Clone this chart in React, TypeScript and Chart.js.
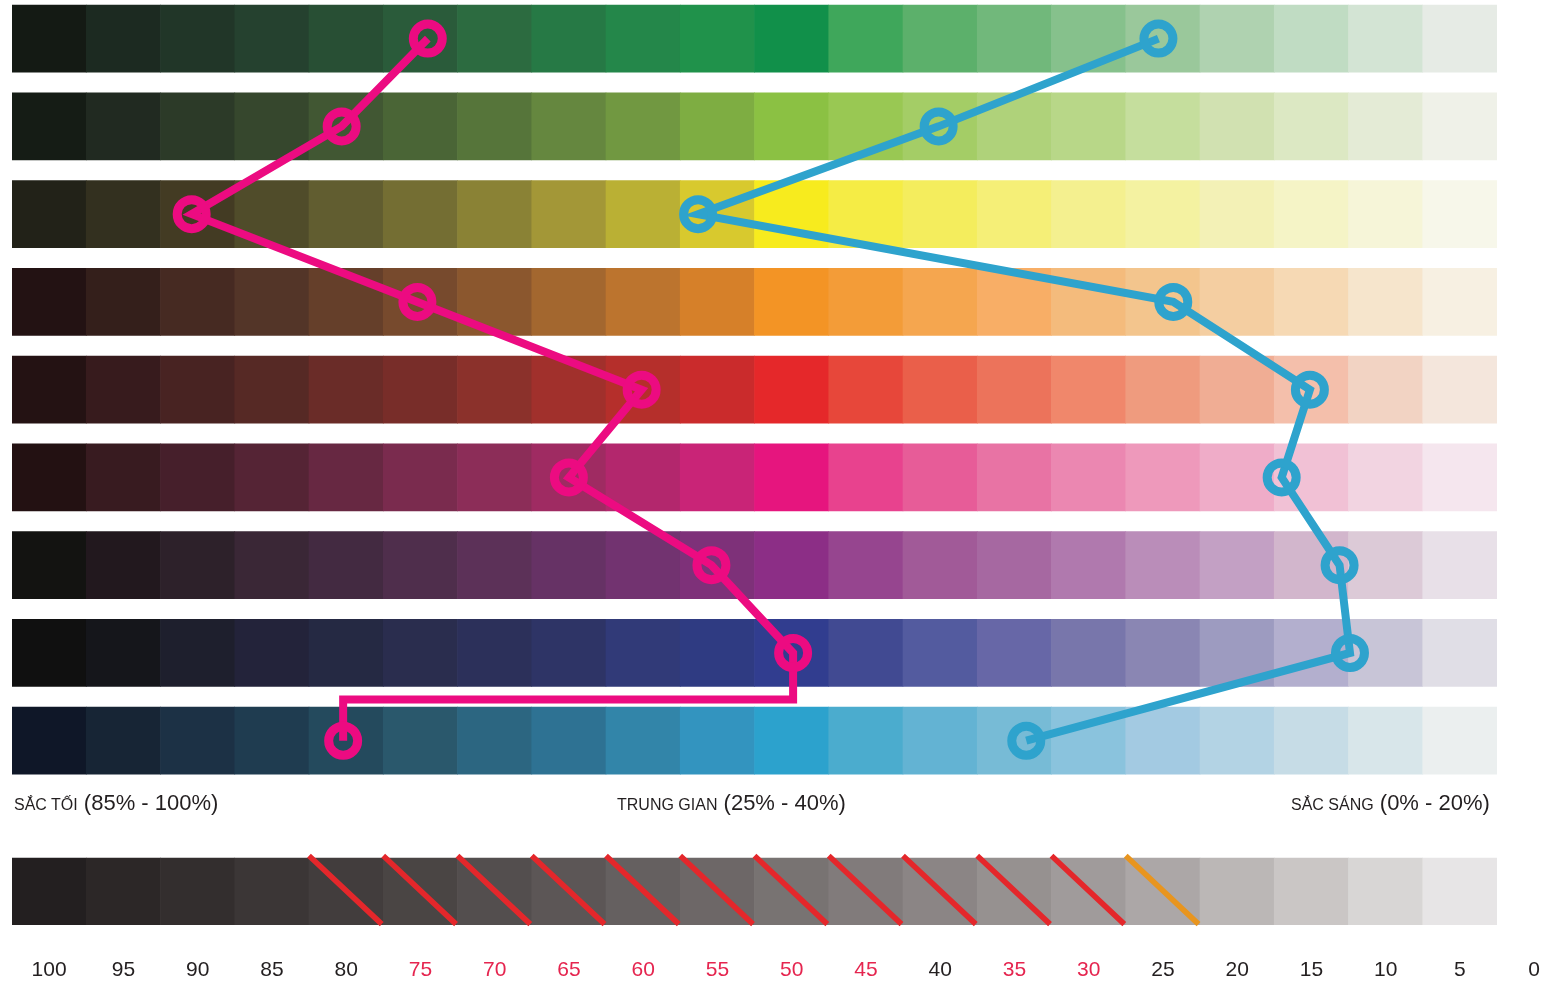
import React, { useEffect, useRef } from "react";
import { Chart, registerables } from "chart.js";

Chart.register(...registerables);

// ---- data -------------------------------------------------------------
const cellTones = [100, 95, 90, 85, 80, 75, 70, 65, 60, 55, 50, 45, 40, 35, 30, 25, 20, 15, 10, 5];
const tickTones = [100, 95, 90, 85, 80, 75, 70, 65, 60, 55, 50, 45, 40, 35, 30, 25, 20, 15, 10, 5, 0];
const redTickTones = [75, 70, 65, 60, 55, 50, 45, 35, 30];

const rowGreen = ["#141a14", "#1c2a21", "#213628", "#25412f", "#284f34", "#2a5b3a", "#2c6b40", "#267945", "#24874a", "#20924b", "#11904a", "#3fa75b", "#5cb06b", "#71b87b", "#86c18c", "#9ac89b", "#afd2b0", "#c0dcc3", "#d3e4d4", "#e6ebe5"];
const rowLime = ["#151c15", "#212a21", "#2c3a28", "#36472d", "#415733", "#4a6536", "#56753a", "#65873f", "#719841", "#7ead42", "#8bc143", "#99c853", "#a4cd66", "#afd27a", "#b8d788", "#c5de9d", "#d1e1b1", "#dce8c3", "#e4ebd6", "#eff1e8"];
const rowYellow = ["#222218", "#33301f", "#433b23", "#504c2a", "#615d30", "#746e33", "#8a8235", "#a39737", "#bab034", "#d8c92e", "#f7eb1e", "#f5ec45", "#f4ed5d", "#f5ef77", "#f4f08f", "#f4f2a1", "#f3f1b6", "#f5f4c6", "#f6f5d8", "#f7f7ea"];
const rowOrange = ["#231213", "#341f1b", "#462a22", "#533528", "#653f2a", "#774a2d", "#8b572e", "#a3672f", "#bc742e", "#d68029", "#f39425", "#f39c38", "#f5a64f", "#f8ae66", "#f4bb7c", "#f3c58d", "#f4cea1", "#f6d9b4", "#f6e5cc", "#f7f0e2"];
const rowRed = ["#241213", "#371b1d", "#482322", "#562925", "#6a2c28", "#782d29", "#8b312b", "#a1302c", "#b52f2b", "#ca2b2c", "#e5282a", "#e7473a", "#ea5f4a", "#ec735b", "#f0876b", "#ef9b7e", "#f0ad94", "#f4bfab", "#f2d3c3", "#f4e6dc"];
const rowPink = ["#231112", "#381b20", "#461f2b", "#552435", "#672842", "#7a2b4e", "#8c2d58", "#9f2b62", "#b3276d", "#c92477", "#e6157e", "#e8428e", "#e75c98", "#e873a4", "#eb87b1", "#ee99bb", "#efacc8", "#f1c1d5", "#f2d4e1", "#f5e6ee"];
const rowPurple = ["#131311", "#22181e", "#2d212a", "#3a2736", "#432a41", "#4f2e4c", "#5c3158", "#663265", "#723370", "#7e3179", "#8c2e86", "#96458f", "#a15a98", "#a668a1", "#b079ae", "#ba8db9", "#c3a0c4", "#d2b6cc", "#dccad7", "#e8e0e8"];
const rowIndigo = ["#101010", "#15161b", "#1e1f2d", "#23233a", "#252943", "#2a2d4e", "#2c305a", "#2e3466", "#313a78", "#2f3b82", "#313d8f", "#414a92", "#535b9f", "#6767a7", "#7876ab", "#8a86b3", "#9d9bc0", "#b3afce", "#c8c5d7", "#e0dee6"];
const rowCyan = ["#0f1728", "#172535", "#1c3145", "#1f3c50", "#244a5d", "#2a586c", "#2c6681", "#2e7293", "#3285a9", "#3394bf", "#2ca2cd", "#4bacce", "#63b3d3", "#77bbd6", "#8ac3dd", "#a3cae2", "#b3d3e4", "#c6dce6", "#d8e6ea", "#ebefef"];
const grayRow = ["#231f20", "#2c2727", "#332e2e", "#3b3636", "#423d3d", "#4a4544", "#534e4e", "#5c5656", "#656060", "#6d6767", "#787372", "#817b7b", "#8b8585", "#969190", "#a09b9b", "#aca7a7", "#bbb7b6", "#cac6c5", "#d8d6d5", "#e7e5e6"];

const colorRows = [rowGreen, rowLime, rowYellow, rowOrange, rowRed, rowPink, rowPurple, rowIndigo, rowCyan];
const grayRowPos = 9.72;

// tone (%) of each marker, one per colour row (top to bottom)
const pinkTones = [74.5, 80.3, 90.4, 75.2, 60.1, 65, 55.4, 49.9, 80.2];
const pinkDetourRow = 7.53;
const blueTones = [25.3, 40.1, 56.3, 24.3, 15.1, 17, 13.1, 12.4, 34.2];

const struckRedTones = [80, 75, 70, 65, 60, 55, 50, 45, 40, 35, 30];
const struckOrangeTones = [25];

// ---- styles -----------------------------------------------------------
const FONT = '"Liberation Sans", Arial, sans-serif';
const DARK = "#231f20";
const LABEL_RED = "#e5254f";
const PINK = "#ec0b81";
const BLUE = "#2ea3cd";
const SLASH_RED = "#e4272b";
const SLASH_ORANGE = "#e8951f";
const HALF_CELL = 2.5;
const GRAY_HALF = 0.39;

export default function App() {
  const canvasRef = useRef<HTMLCanvasElement | null>(null);

  useEffect(() => {
    document.body.style.margin = "0";
    document.body.style.overflow = "hidden";
    const canvas = canvasRef.current;
    if (!canvas) return;

    const barData: any[] = [];
    const barColors: string[] = [];
    colorRows.forEach((row, r) => {
      row.forEach((c, i) => {
        barData.push({ y: r, x: [cellTones[i] - HALF_CELL, cellTones[i] + HALF_CELL] });
        barColors.push(c);
      });
    });
    grayRow.forEach((c, i) => {
      barData.push({ y: grayRowPos, x: [cellTones[i] - HALF_CELL, cellTones[i] + HALF_CELL] });
      barColors.push(c);
    });

    const pinkPoints: any[] = pinkTones.slice(0, 8).map((t, i) => ({ x: t, y: i, m: true }));
    pinkPoints.push({ x: pinkTones[7], y: pinkDetourRow });
    pinkPoints.push({ x: pinkTones[8], y: pinkDetourRow });
    pinkPoints.push({ x: pinkTones[8], y: 8, m: true });

    const bluePoints = blueTones.map((t, i) => ({ x: t, y: i, m: true }));

    const slashPoints = (tones: number[]) =>
      tones.flatMap((t) => [
        { x: t + HALF_CELL, y: grayRowPos - GRAY_HALF - 0.02 },
        { x: t - HALF_CELL + 0.1, y: grayRowPos + GRAY_HALF - 0.02 },
        { x: t, y: null },
      ]);

    const markerRadius = (ctx: any) => (ctx.raw && ctx.raw.m ? 14.5 : 0);

    const lineCommon = {
      type: "line" as const,
      indexAxis: "x" as const,
      tension: 0,
      fill: false,
      borderJoinStyle: "miter" as const,
      spanGaps: false,
      clip: false as any,
    };

    const chart = new Chart(canvas, {
      type: "bar",
      data: {
        datasets: [
          {
            type: "bar",
            data: barData,
            backgroundColor: barColors,
            borderWidth: 0,
            barThickness: 67,
            order: 3,
          } as any,
          {
            ...lineCommon,
            data: slashPoints(struckRedTones),
            borderColor: SLASH_RED,
            borderWidth: 5.5,
            pointRadius: 0,
            order: 2,
          } as any,
          {
            ...lineCommon,
            data: slashPoints(struckOrangeTones),
            borderColor: SLASH_ORANGE,
            borderWidth: 5.5,
            pointRadius: 0,
            order: 2,
          } as any,
          {
            ...lineCommon,
            data: bluePoints,
            borderColor: BLUE,
            borderWidth: 8,
            pointRadius: markerRadius,
            pointHoverRadius: markerRadius,
            pointBorderWidth: 9,
            pointBorderColor: BLUE,
            pointBackgroundColor: "rgba(0,0,0,0)",
            order: 1,
          } as any,
          {
            ...lineCommon,
            data: pinkPoints,
            borderColor: PINK,
            borderWidth: 8,
            pointRadius: markerRadius,
            pointHoverRadius: markerRadius,
            pointBorderWidth: 9,
            pointBorderColor: PINK,
            pointBackgroundColor: "rgba(0,0,0,0)",
            order: 1,
          } as any,
        ],
      },
      options: {
        indexAxis: "y",
        responsive: false,
        maintainAspectRatio: false,
        animation: false,
        events: [],
        layout: { autoPadding: false, padding: { left: 12, right: 52, top: 0, bottom: 0 } },
        plugins: { legend: { display: false }, tooltip: { enabled: false }, title: { display: false } },
        scales: {
          x: {
            type: "linear",
            position: "bottom",
            min: 2.5,
            max: 102.5,
            reverse: true,
            offset: false,
            grid: { display: false, drawTicks: true, tickLength: 33 },
            border: { display: false },
            afterBuildTicks: (axis: any) => {
              axis.ticks = tickTones.map((v) => ({ value: v }));
            },
            afterFit: (axis: any) => {
              axis.height = 60;
            },
            ticks: {
              autoSkip: false,
              maxRotation: 0,
              minRotation: 0,
              padding: 0,
              callback: (v: any) => String(v),
              color: (ctx: any) => (ctx.tick && redTickTones.includes(ctx.tick.value) ? LABEL_RED : DARK),
              font: { family: FONT, size: 21 },
            },
          },
          y: {
            type: "linear",
            display: false,
            min: -0.44,
            max: 10.1,
            reverse: true,
            offset: false,
            grid: { display: false },
          },
        },
      } as any,
    });

    return () => {
      chart.destroy();
    };
  }, []);

  const labelStyle: React.CSSProperties = {
    position: "absolute",
    top: 792,
    fontFamily: FONT,
    fontSize: 22,
    lineHeight: "22px",
    color: DARK,
    whiteSpace: "nowrap",
  };
  const capsStyle: React.CSSProperties = { fontSize: 16 };

  return (
    <div style={{ position: "relative", width: 1549, height: 985, overflow: "hidden", background: "#ffffff" }}>
      <canvas ref={canvasRef} width={1549} height={985} style={{ display: "block" }} />
      <div style={{ ...labelStyle, left: 14 }}>
        <span style={capsStyle}>SẮC TỐI</span> (85% - 100%)
      </div>
      <div style={{ ...labelStyle, left: 617 }}>
        <span style={capsStyle}>TRUNG GIAN</span> (25% - 40%)
      </div>
      <div style={{ ...labelStyle, left: 1291 }}>
        <span style={capsStyle}>SẮC SÁNG</span> (0% - 20%)
      </div>
    </div>
  );
}
